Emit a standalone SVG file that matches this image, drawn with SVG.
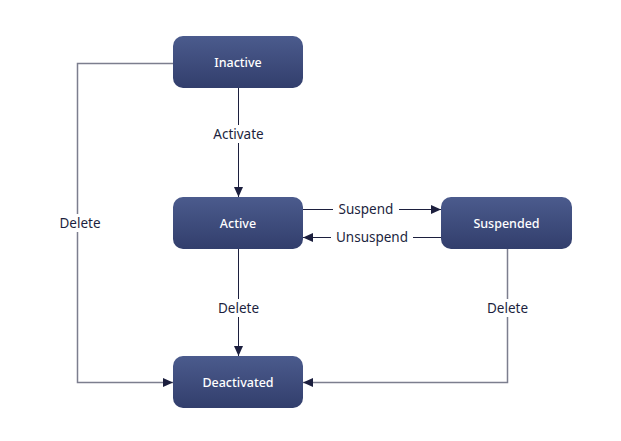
<svg xmlns="http://www.w3.org/2000/svg" width="621" height="441" viewBox="0 0 621 441">
<defs>
<linearGradient id="g" x1="0" y1="0" x2="0" y2="1">
<stop offset="0" stop-color="#4b5b8d"/>
<stop offset="1" stop-color="#323e6c"/>
</linearGradient>
<marker id="a" viewBox="0 0 10 10" refX="10" refY="5" markerWidth="10" markerHeight="10" markerUnits="userSpaceOnUse" orient="auto">
<path d="M0,0.5 L10,5 L0,9.5 Z" fill="#1c1f3e"/>
</marker>
<style>
.n rect{fill:url(#g);}
.n text{fill:#ffffff;font-family:"Noto Sans","DejaVu Sans",sans-serif;font-size:12.5px;font-weight:500;text-anchor:middle;dominant-baseline:central;}
.e{fill:none;stroke:#1c1f3e;stroke-width:1;}
.g{fill:none;stroke:#7c7e8e;stroke-width:1.5;}
.l{fill:#1c1f3e;font-family:"Noto Sans","DejaVu Sans",sans-serif;font-size:13.5px;text-anchor:middle;dominant-baseline:central;}
.bg{fill:#ffffff;}
</style>
</defs>
<rect width="621" height="441" fill="#ffffff"/>
<g id="connectors">
<path class="e" d="M238.5,88 V197" marker-end="url(#a)"/>
<rect class="bg" x="204" y="125" width="70" height="18"/>
<text class="l" x="238.5" y="134">Activate</text>
<path class="e" d="M303,209.5 H441" marker-end="url(#a)"/>
<rect class="bg" x="333" y="200" width="66" height="18"/>
<text class="l" x="366" y="209">Suspend</text>
<path class="e" d="M441,237.5 H303" marker-end="url(#a)"/>
<rect class="bg" x="331" y="228" width="82" height="18"/>
<text class="l" x="372" y="237">Unsuspend</text>
<path class="e" d="M238.5,249 V356" marker-end="url(#a)"/>
<rect class="bg" x="213" y="299" width="51" height="18"/>
<text class="l" x="238.5" y="308">Delete</text>
<path class="g" d="M507.5,249 V382.5 H303" marker-end="url(#a)"/>
<rect class="bg" x="482" y="299" width="51" height="18"/>
<text class="l" x="507.5" y="308">Delete</text>
<path class="g" d="M173,63.5 H77.5 V382.5 H173" marker-end="url(#a)"/>
<rect class="bg" x="55" y="214" width="51" height="18"/>
<text class="l" x="80" y="223">Delete</text>
</g>
<g id="inactive" class="n"><rect x="173" y="36" width="130" height="52" rx="10"/><text x="238" y="62">Inactive</text></g>
<g id="active" class="n"><rect x="173" y="197" width="130" height="52" rx="10"/><text x="238" y="223">Active</text></g>
<g id="suspended" class="n"><rect x="441" y="197" width="131" height="52" rx="10"/><text x="506.5" y="223">Suspended</text></g>
<g id="deactivated" class="n"><rect x="173" y="356" width="130" height="52" rx="10"/><text x="238" y="382">Deactivated</text></g>
</svg>
